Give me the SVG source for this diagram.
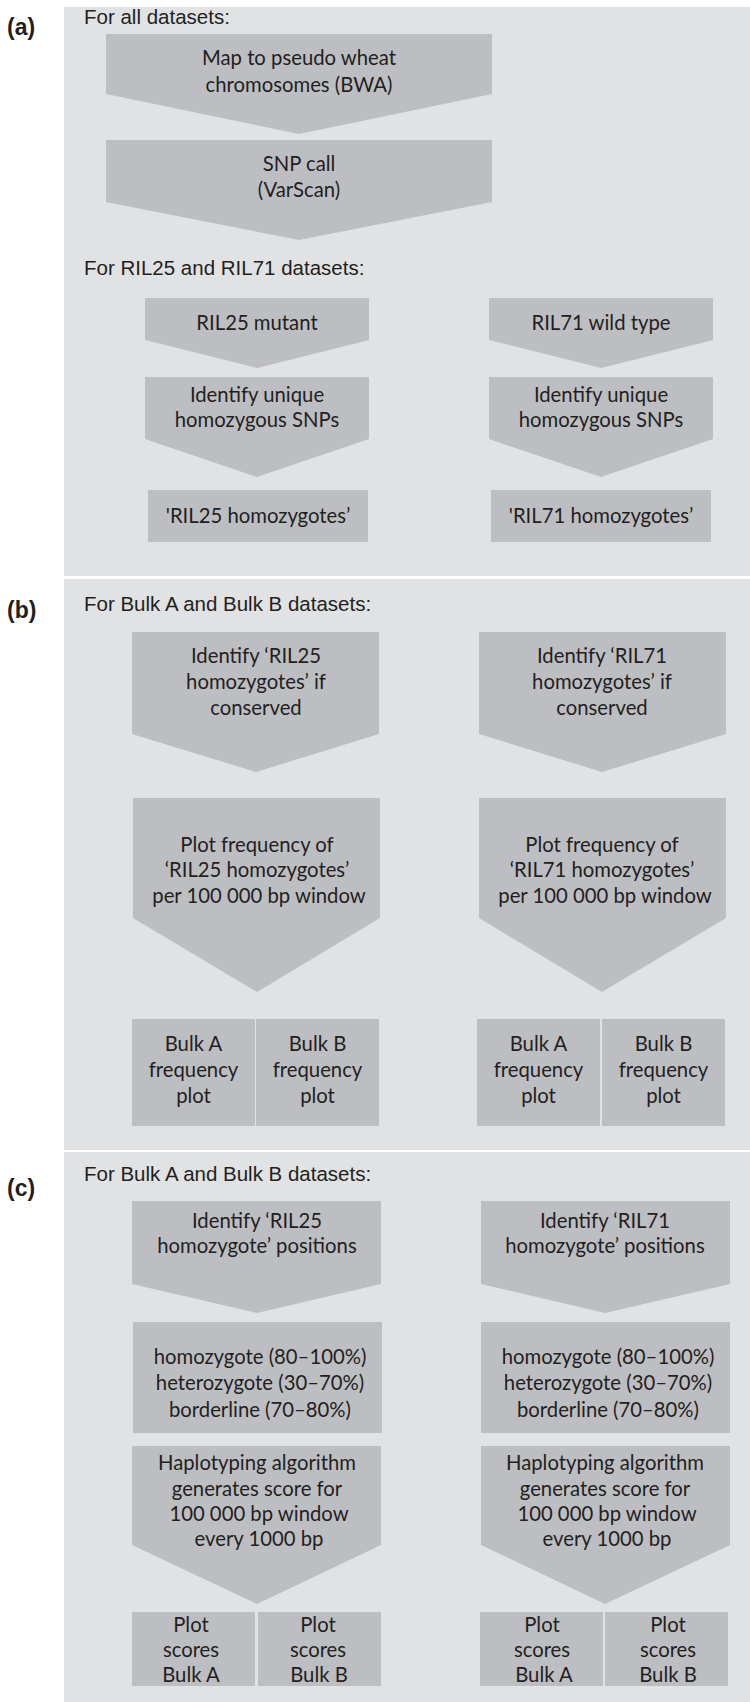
<svg xmlns="http://www.w3.org/2000/svg" width="750" height="1702" viewBox="0 0 750 1702">
<style>
.panel{fill:#e1e2e4}
.shape{fill:#bdbec2}
.lbl{font-family:"Liberation Sans",Arial,sans-serif;font-weight:bold;font-size:23px;fill:#231f20}
.hdr{font-family:"Liberation Sans",Arial,sans-serif;font-size:20.5px;fill:#231f20}
.t{font-family:Lato,"Open Sans",sans-serif;font-size:20.3px;fill:#231f20;text-anchor:middle}
</style>
<rect width="750" height="1702" fill="#ffffff"/>
<g id="panels">
<rect class="panel" x="64" y="7" width="686" height="569"/>
<rect class="panel" x="64" y="579" width="686" height="571"/>
<rect class="panel" x="64" y="1152" width="686" height="550"/>
</g>
<g id="labels">
<text class="lbl" x="7" y="35">(a)</text>
<text class="lbl" x="7" y="618">(b)</text>
<text class="lbl" x="7" y="1196">(c)</text>
<text class="hdr" x="84" y="24">For all datasets:</text>
<text class="hdr" x="84" y="275">For RIL25 and RIL71 datasets:</text>
<text class="hdr" x="84" y="611">For Bulk A and Bulk B datasets:</text>
<text class="hdr" x="84" y="1181">For Bulk A and Bulk B datasets:</text>
</g>
<g id="connectors"></g>
<!-- Panel a -->
<g id="a_map">
<polygon class="shape" points="106,34 492,34 492,94 299,134 106,94"/>
<text class="t" x="299" y="65">Map to pseudo wheat</text>
<text class="t" x="299" y="92">chromosomes (BWA)</text>
</g>
<g id="a_snp">
<polygon class="shape" points="106,140 492,140 492,202 299,240 106,202"/>
<text class="t" x="299" y="171">SNP call</text>
<text class="t" x="299" y="197">(VarScan)</text>
</g>
<g id="a_ril25">
<polygon class="shape" points="145,298 369,298 369,340 257,368 145,340"/>
<text class="t" x="257" y="330">RIL25 mutant</text>
</g>
<g id="a_ril71">
<polygon class="shape" points="489,298 713,298 713,340 601,368 489,340"/>
<text class="t" x="601" y="330">RIL71 wild type</text>
</g>
<g id="a_ident25">
<polygon class="shape" points="145,377 369,377 369,439 257,477 145,439"/>
<text class="t" x="257" y="402">Identify unique</text>
<text class="t" x="257" y="427">homozygous SNPs</text>
</g>
<g id="a_ident71">
<polygon class="shape" points="489,377 713,377 713,439 601,477 489,439"/>
<text class="t" x="601" y="402">Identify unique</text>
<text class="t" x="601" y="427">homozygous SNPs</text>
</g>
<g id="a_homo25">
<rect class="shape" x="148" y="490" width="220" height="52"/>
<text class="t" x="258" y="523">'RIL25 homozygotes’</text>
</g>
<g id="a_homo71">
<rect class="shape" x="491" y="490" width="220" height="52"/>
<text class="t" x="601" y="523">'RIL71 homozygotes’</text>
</g>
<!-- Panel b -->
<g id="b_ident25">
<polygon class="shape" points="132,632 379,632 379,734 256,772 132,734"/>
<text class="t" x="256" y="663">Identify ‘RIL25</text>
<text class="t" x="256" y="689">homozygotes’ if</text>
<text class="t" x="256" y="715">conserved</text>
</g>
<g id="b_ident71">
<polygon class="shape" points="479,632 726,632 726,734 602,772 479,734"/>
<text class="t" x="602" y="663">Identify ‘RIL71</text>
<text class="t" x="602" y="689">homozygotes’ if</text>
<text class="t" x="602" y="715">conserved</text>
</g>
<g id="b_plot25">
<polygon class="shape" points="133,798 380,798 380,918 257,992 133,918"/>
<text class="t" x="257" y="852">Plot frequency of</text>
<text class="t" x="257" y="877">‘RIL25 homozygotes’</text>
<text class="t" x="259" y="903">per 100 000 bp window</text>
</g>
<g id="b_plot71">
<polygon class="shape" points="479,798 726,798 726,918 602,992 479,918"/>
<text class="t" x="602" y="852">Plot frequency of</text>
<text class="t" x="602" y="877">‘RIL71 homozygotes’</text>
<text class="t" x="605" y="903">per 100 000 bp window</text>
</g>
<g id="b_25A">
<rect class="shape" x="132" y="1019" width="123" height="107"/>
<text class="t" x="193.5" y="1051">Bulk A</text>
<text class="t" x="193.5" y="1077">frequency</text>
<text class="t" x="193.5" y="1103">plot</text>
</g>
<g id="b_25B">
<rect class="shape" x="256" y="1019" width="123" height="107"/>
<text class="t" x="317.5" y="1051">Bulk B</text>
<text class="t" x="317.5" y="1077">frequency</text>
<text class="t" x="317.5" y="1103">plot</text>
</g>
<g id="b_71A">
<rect class="shape" x="477" y="1019" width="123" height="107"/>
<text class="t" x="538.5" y="1051">Bulk A</text>
<text class="t" x="538.5" y="1077">frequency</text>
<text class="t" x="538.5" y="1103">plot</text>
</g>
<g id="b_71B">
<rect class="shape" x="602" y="1019" width="123" height="107"/>
<text class="t" x="663.5" y="1051">Bulk B</text>
<text class="t" x="663.5" y="1077">frequency</text>
<text class="t" x="663.5" y="1103">plot</text>
</g>
<!-- Panel c -->
<g id="c_ident25">
<polygon class="shape" points="132,1201 381,1201 381,1284 257,1313 132,1284"/>
<text class="t" x="257" y="1228">Identify ‘RIL25</text>
<text class="t" x="257" y="1253">homozygote’ positions</text>
</g>
<g id="c_ident71">
<polygon class="shape" points="481,1201 730,1201 730,1284 605,1313 481,1284"/>
<text class="t" x="605" y="1228">Identify ‘RIL71</text>
<text class="t" x="605" y="1253">homozygote’ positions</text>
</g>
<g id="c_class25">
<rect class="shape" x="133" y="1322" width="249" height="111"/>
<text class="t" x="260" y="1364">homozygote (80–100%)</text>
<text class="t" x="260" y="1390">heterozygote (30–70%)</text>
<text class="t" x="260" y="1417">borderline (70–80%)</text>
</g>
<g id="c_class71">
<rect class="shape" x="481" y="1322" width="249" height="111"/>
<text class="t" x="608" y="1364">homozygote (80–100%)</text>
<text class="t" x="608" y="1390">heterozygote (30–70%)</text>
<text class="t" x="608" y="1417">borderline (70–80%)</text>
</g>
<g id="c_hap25">
<polygon class="shape" points="132,1446 381,1446 381,1545 257,1604 132,1545"/>
<text class="t" x="257" y="1470">Haplotyping algorithm</text>
<text class="t" x="257" y="1496">generates score for</text>
<text class="t" x="259" y="1521">100 000 bp window</text>
<text class="t" x="259" y="1546">every 1000 bp</text>
</g>
<g id="c_hap71">
<polygon class="shape" points="481,1446 730,1446 730,1545 605,1604 481,1545"/>
<text class="t" x="605" y="1470">Haplotyping algorithm</text>
<text class="t" x="605" y="1496">generates score for</text>
<text class="t" x="607" y="1521">100 000 bp window</text>
<text class="t" x="607" y="1546">every 1000 bp</text>
</g>
<g id="c_25A">
<rect class="shape" x="132" y="1612" width="123" height="74"/>
<text class="t" x="191" y="1632">Plot</text>
<text class="t" x="191" y="1657">scores</text>
<text class="t" x="191" y="1682">Bulk A</text>
</g>
<g id="c_25B">
<rect class="shape" x="258" y="1612" width="123" height="74"/>
<text class="t" x="318" y="1632">Plot</text>
<text class="t" x="318" y="1657">scores</text>
<text class="t" x="319" y="1682">Bulk B</text>
</g>
<g id="c_71A">
<rect class="shape" x="480" y="1612" width="123" height="74"/>
<text class="t" x="542" y="1632">Plot</text>
<text class="t" x="542" y="1657">scores</text>
<text class="t" x="544" y="1682">Bulk A</text>
</g>
<g id="c_71B">
<rect class="shape" x="605" y="1612" width="123" height="74"/>
<text class="t" x="668" y="1632">Plot</text>
<text class="t" x="668" y="1657">scores</text>
<text class="t" x="668" y="1682">Bulk B</text>
</g>
</svg>
